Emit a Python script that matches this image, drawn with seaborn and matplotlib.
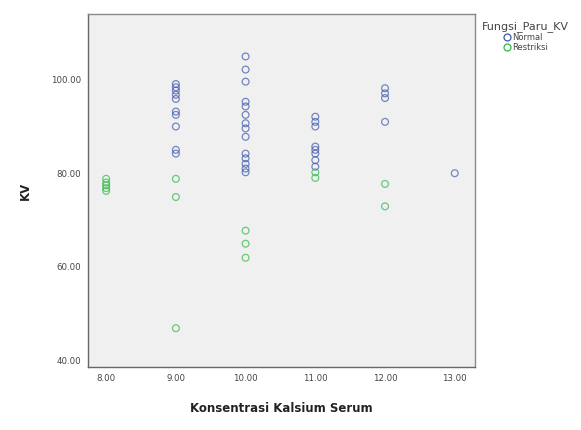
import pandas as pd
import matplotlib.pyplot as plt
import seaborn as sns

# Konsentrasi kalsium serum (x) and KV (y), grouped by Fungsi_Paru_KV
normal_kalsium = [9] * 10 + [10] * 14 + [11] * 8 + [12] * 4 + [13]
normal_kv = [99.1, 98.4, 97.7, 96.8, 95.9, 93.2, 92.5, 90.0, 85.0, 84.2,
             105.0, 102.2, 99.6, 95.3, 94.3, 92.5, 90.7, 89.6, 87.8, 84.2, 83.2, 82.0, 81.0, 80.2,
             92.1, 91.0, 90.0, 85.7, 85.0, 84.2, 82.8, 81.4,
             98.2, 97.1, 96.1, 91.0,
             80.0]

restriksi_kalsium = [8] * 5 + [9] * 3 + [10] * 3 + [11] * 2 + [12] * 2
restriksi_kv = [78.8, 78.0, 77.4, 76.8, 76.2,
                78.8, 74.9, 46.8,
                67.7, 64.9, 61.9,
                80.2, 79.0,
                77.7, 72.9]

groups = ['Normal', 'Restriksi']
colors = ['#3e58ac', '#2eb848']
x_ticks = [8, 9, 10, 11, 12, 13]
y_ticks = [40, 60, 80, 100]

df = pd.DataFrame({
    'kalsium': normal_kalsium + restriksi_kalsium,
    'kv': normal_kv + restriksi_kv,
    'Fungsi_Paru_KV': [groups[0]] * len(normal_kv) + [groups[1]] * len(restriksi_kv),
})

sns.set_style('white')
plt.rcParams['font.family'] = ['DejaVu Sans']

fig = plt.figure(figsize=(5.81, 4.30), dpi=100)
ax = fig.add_axes([0.1515, 0.1465, 0.666, 0.821])
ax.set_facecolor('#f0f0f0')

sns.scatterplot(data=df, x='kalsium', y='kv', hue='Fungsi_Paru_KV',
                hue_order=groups, palette=colors, ax=ax, s=24,
                marker='o', linewidth=0.9, legend=False)

# open circles, like the SPSS output
pts = ax.collections[0]
fc = pts.get_facecolors()
fc[:, 3] = 0.7
pts.set_edgecolors(fc)
pts.set_facecolors('none')

ax.set_xlim(7.74, 13.29)
ax.set_ylim(38.5, 114.1)
ax.set_xticks(x_ticks)
ax.set_xticklabels([f'{v:.2f}' for v in x_ticks], fontsize=6.2, color='#444444')
ax.set_yticks(y_ticks)
ax.set_yticklabels([f'{v:.2f}' for v in y_ticks], fontsize=6.2, color='#444444')
ax.tick_params(axis='both', direction='out', length=3, width=0.8, color='#555555', pad=2)
ax.set_xlabel('Konsentrasi Kalsium Serum', fontsize=8.5, fontweight='bold', labelpad=14, color='#222222')
ax.set_ylabel('KV', fontsize=8.5, fontweight='bold', labelpad=14, color='#222222')
for side in ax.spines.values():
    side.set_color('#8a8a8a')
    side.set_linewidth(1.0)
ax.spines['left'].set_color('#666666')
ax.spines['bottom'].set_color('#666666')

handles = [plt.Line2D([], [], marker='o', linestyle='none', markerfacecolor='none',
                      markeredgecolor=c, markersize=5, markeredgewidth=0.9)
           for c in colors]
leg = fig.legend(handles, groups, title='Fungsi_Paru_KV', loc='upper left',
                 bbox_to_anchor=(0.83, 0.95), frameon=False, fontsize=6,
                 title_fontsize=8, handletextpad=0.2, labelspacing=0.1,
                 handlelength=0.8, borderaxespad=0, borderpad=0)
leg._legend_box.align = 'center'
leg.get_title().set_color('#444444')
for t in leg.get_texts():
    t.set_color('#444444')

fig.savefig('out.png', dpi=100)
